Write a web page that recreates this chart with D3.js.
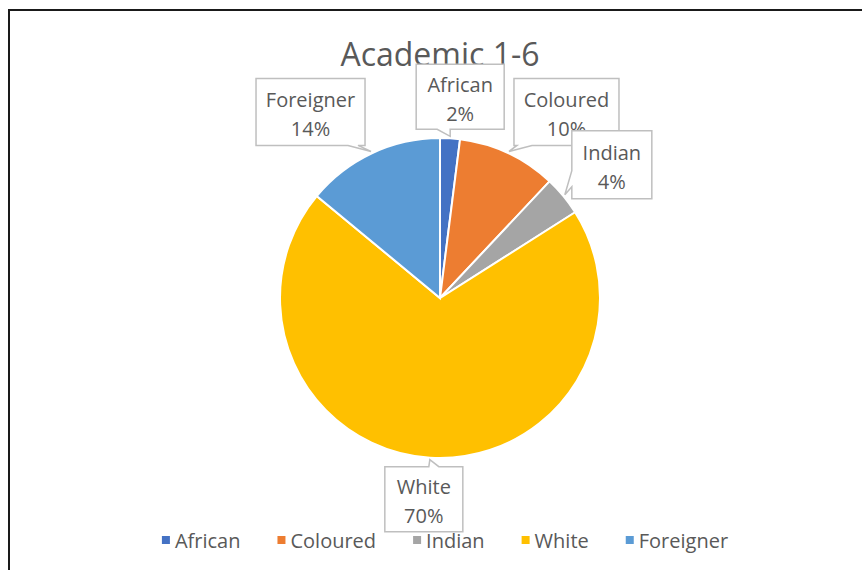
<!DOCTYPE html>
<html>
<head>
<meta charset="utf-8">
<script src="https://cdnjs.cloudflare.com/ajax/libs/d3/7.8.5/d3.min.js"></script>
<style>
  body { margin:0; background:#fff; }
  text { font-family: "Open Sans", Lato, sans-serif; fill:#595959; }
</style>
</head>
<body>
<div id="chart"></div>
<script>
// data
var categories = ["African","Coloured","Indian","White","Foreigner"];
var shares = [2, 10, 4, 70, 14];
var colors = ["#4472C4","#ED7D31","#A5A5A5","#FFC000","#5B9BD5"];
var title = "Academic 1-6";

// callout boxes: offset of box from label tip, box size, notch edge
var callouts = [
  {dx:-34, dy:-72, w:88, h:65, edge:"bottom", n0:21, n1:34},
  {dx:5,   dy:-73, w:105, h:67, edge:"bottom", n0:3, n1:18},
  {dx:7,   dy:-64, w:80, h:68, edge:"left",   n0:40, n1:56},
  {dx:-45, dy:7,   w:78, h:65, edge:"top",    n0:44, n1:54},
  {dx:-115,dy:-73, w:109, h:67, edge:"bottom", n0:92, n1:102}
];

var width = 862, height = 570,
    cx = 440, cy = 298, radius = 160;

var svg = d3.select("#chart").append("svg")
  .attr("width", width).attr("height", height);

svg.append("rect")
  .attr("x", 9).attr("y", 10).attr("width", 900).attr("height", 600)
  .attr("fill", "#fff").attr("stroke", "#1a1a1a").attr("stroke-width", 2);

svg.append("text")
  .attr("x", cx).attr("y", 66)
  .attr("text-anchor", "middle")
  .style("font-size", "32px")
  .text(title);

var pie = d3.pie().sort(null).value(function(d){ return d; });
var arcs = pie(shares);
var arc = d3.arc().innerRadius(0).outerRadius(radius);

var g = svg.append("g").attr("transform", "translate(" + cx + "," + cy + ")");

g.selectAll("path.slice")
  .data(arcs)
  .enter().append("path")
  .attr("class", "slice")
  .attr("d", arc)
  .attr("fill", function(d, i){ return colors[i]; })
  .attr("stroke", "#fff")
  .attr("stroke-width", 2);

// callouts
function calloutPath(x, y, c, tx, ty) {
  var p = "M" + x + "," + y;
  if (c.edge == "top") {
    p += "L" + (x + c.n0) + "," + y + "L" + tx + "," + ty + "L" + (x + c.n1) + "," + y;
  }
  p += "L" + (x + c.w) + "," + y + "L" + (x + c.w) + "," + (y + c.h);
  if (c.edge == "bottom") {
    p += "L" + (x + c.n1) + "," + (y + c.h) + "L" + tx + "," + ty + "L" + (x + c.n0) + "," + (y + c.h);
  }
  p += "L" + x + "," + (y + c.h);
  if (c.edge == "left") {
    p += "L" + x + "," + (y + c.n1) + "L" + tx + "," + ty + "L" + x + "," + (y + c.n0);
  }
  return p + "Z";
}

var tipArc = d3.arc().innerRadius(radius + 2).outerRadius(radius + 2);

arcs.forEach(function(d, i) {
  var c = callouts[i];
  var t = tipArc.centroid(d);
  var tx = cx + t[0], ty = cy + t[1];
  var bx = tx + c.dx, by = ty + c.dy;
  var lg = svg.append("g");
  lg.append("path")
    .attr("d", calloutPath(bx, by, c, tx, ty))
    .attr("fill", "#fff")
    .attr("stroke", "#bfbfbf")
    .attr("stroke-width", 1.5);
  lg.append("text")
    .attr("x", bx + c.w / 2).attr("y", by + c.h / 2 - 5)
    .attr("text-anchor", "middle")
    .style("font-size", "20px")
    .text(categories[i]);
  lg.append("text")
    .attr("x", bx + c.w / 2).attr("y", by + c.h / 2 + 24)
    .attr("text-anchor", "middle")
    .style("font-size", "20px")
    .text(Math.round(d.value / d3.sum(shares) * 100) + "%");
});

// legend
var legend = svg.append("g");
var items = legend.selectAll("g.item")
  .data(categories)
  .enter().append("g").attr("class", "item");

items.append("rect")
  .attr("width", 8).attr("height", 8)
  .attr("y", -12)
  .attr("fill", function(d, i){ return colors[i]; });

items.append("text")
  .attr("x", 13).attr("y", 0)
  .style("font-size", "20px")
  .text(function(d){ return d; });

var gap = 37;
var xpos = 0;
items.each(function() {
  var w = this.getBBox().width;
  d3.select(this).attr("transform", "translate(" + xpos + ",0)");
  xpos += w + gap;
});
var total = xpos - gap;
legend.attr("transform", "translate(" + (445 - total / 2) + ",548)");
</script>
</body>
</html>
